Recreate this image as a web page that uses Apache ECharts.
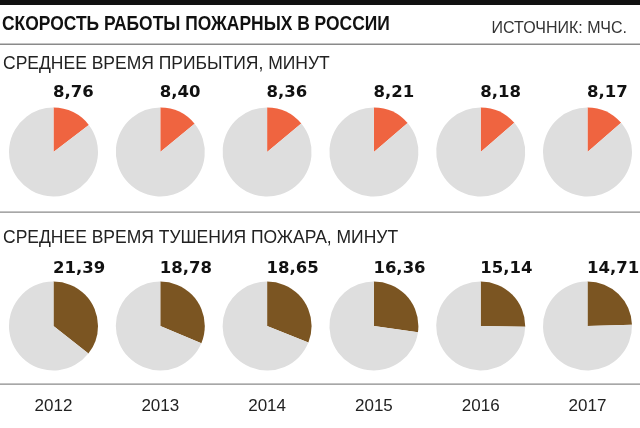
<!DOCTYPE html>
<html>
<head>
<meta charset="utf-8">
<script src="https://cdn.jsdelivr.net/npm/echarts@6/dist/echarts.min.js"></script>
<style>html,body{margin:0;padding:0;background:#fff}#c{width:640px;height:428px}</style>
</head>
<body>
<div id="c"></div>
<script>
var years = ['2012', '2013', '2014', '2015', '2016', '2017'];
var arrivalMinutes = [8.76, 8.40, 8.36, 8.21, 8.18, 8.17];
var extinguishMinutes = [21.39, 18.78, 18.65, 16.36, 15.14, 14.71];
var fullHour = 60;
var titleText = 'СКОРОСТЬ РАБОТЫ ПОЖАРНЫХ В РОССИИ';
var sourceText = 'ИСТОЧНИК: МЧС.';
var sub1 = 'СРЕДНЕЕ ВРЕМЯ ПРИБЫТИЯ, МИНУТ';
var sub2 = 'СРЕДНЕЕ ВРЕМЯ ТУШЕНИЯ ПОЖАРА, МИНУТ';

var chart = echarts.init(document.getElementById('c'), null, {renderer: 'canvas'});
var x0 = 53.5, dx = 106.8, r = 44.5, cyTop = 152, cyBot = 326;
var orange = '#EF6440', brown = '#7B5522', grey = '#DEDEDE';
var fmt = function (v) { return v.toFixed(2).replace('.', ','); };

var series = [];
var graphic = [
  {type: 'rect', shape: {x: 0, y: 0, width: 640, height: 5}, style: {fill: '#111'}},
  {type: 'text', x: 2, y: 24.5, scaleX: 0.83, style: {text: titleText, font: 'bold 21px "Liberation Sans", sans-serif', fill: '#111', verticalAlign: 'middle'}},
  {type: 'text', x: 627, y: 29, style: {text: sourceText, font: '16px "Liberation Sans", sans-serif', fill: '#333', align: 'right', verticalAlign: 'middle'}},
  {type: 'rect', shape: {x: 0, y: 43.5, width: 640, height: 1.5}, style: {fill: '#8a8a8a'}},
  {type: 'text', x: 3, y: 64.5, style: {text: sub1, font: '17.5px "Liberation Sans", sans-serif', fill: '#222', verticalAlign: 'middle'}},
  {type: 'rect', shape: {x: 0, y: 211.5, width: 640, height: 1.2}, style: {fill: '#8a8a8a'}},
  {type: 'text', x: 3, y: 238.5, style: {text: sub2, font: '17.5px "Liberation Sans", sans-serif', fill: '#222', verticalAlign: 'middle'}},
  {type: 'rect', shape: {x: 0, y: 383.5, width: 640, height: 1.2}, style: {fill: '#8a8a8a'}}
];

function addRow(vals, cy, color, labelY) {
  vals.forEach(function (v, i) {
    var cx = x0 + i * dx;
    series.push({
      type: 'pie', silent: true, animation: false,
      center: [cx, cy], radius: r, startAngle: 90, clockwise: true,
      label: {show: false}, labelLine: {show: false},
      itemStyle: {borderWidth: 0},
      data: [
        {value: v, itemStyle: {color: color}},
        {value: fullHour - v, itemStyle: {color: grey}}
      ]
    });
    graphic.push({type: 'text', x: cx - 0.5, y: labelY, style: {text: fmt(v), font: 'bold 16.5px "DejaVu Sans", sans-serif', fill: '#111', verticalAlign: 'middle'}});
  });
}
addRow(arrivalMinutes, cyTop, orange, 93);
addRow(extinguishMinutes, cyBot, brown, 268.5);

years.forEach(function (y, i) {
  graphic.push({type: 'text', x: x0 + i * dx, y: 406.5, style: {text: y, font: '17px "Liberation Sans", sans-serif', fill: '#222', align: 'center', verticalAlign: 'middle'}});
});

chart.setOption({animation: false, series: series, graphic: graphic});
</script>
</body>
</html>
